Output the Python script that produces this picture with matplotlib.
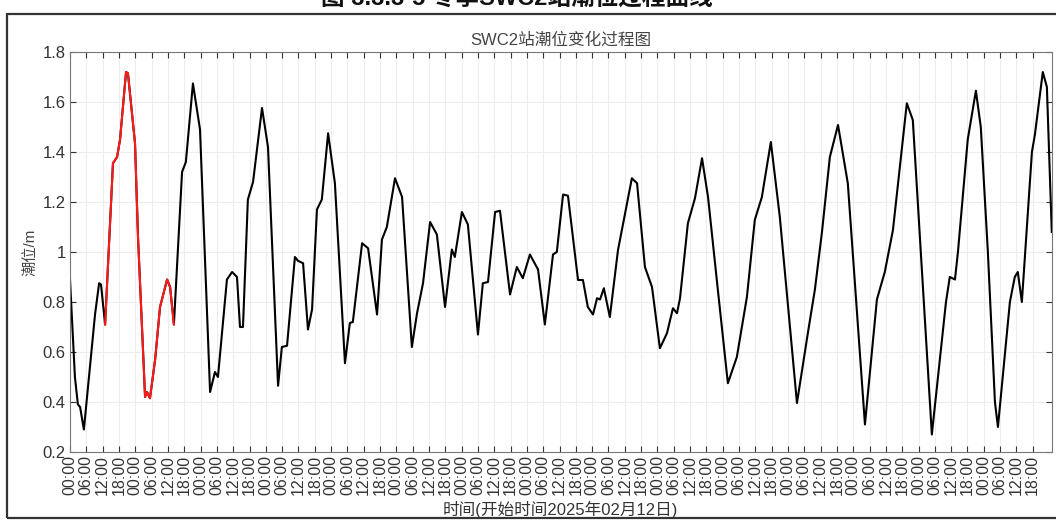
import numpy as np
import matplotlib
matplotlib.use('agg')
import matplotlib.pyplot as plt
from matplotlib.patches import Rectangle
from matplotlib.ticker import FuncFormatter

plt.rcParams['font.family'] = ['Liberation Sans', 'Noto Sans CJK SC']

# hours since 2025-02-12 00:00, tide level (m)
hours = [0, 1.8, 2.9, 3.7, 5.1, 7.4, 9.2, 10.7, 11.4, 12.9,
         15.8, 17.3, 18.4, 20.6, 21.3, 23.9, 25.0, 27.6, 28.3, 29.4,
         31.3, 33.1, 35.7, 36.8, 38.2,
         41.2, 42.6, 45.2, 47.8, 51.5, 53.3, 54.4, 57.7, 59.6, 61.4,
         62.5, 63.6, 65.4, 67.3, 70.6, 72.8, 76.5, 77.9, 79.8, 82.7,
         83.8, 85.7, 87.5, 89.0, 90.8, 92.6, 94.9, 97.4, 101.1, 102.9,
         104.0, 107.4, 109.6, 112.9, 114.7, 116.5, 119.5, 122.1, 125.7, 127.6,
         129.8, 132.4, 134.9, 137.9, 140.4, 141.5, 144.1, 146.3, 150.0, 151.8,
         153.7, 156.3, 158.1, 161.8, 164.3, 166.5, 169.1, 172.1, 174.6, 177.6,
         179.0, 181.3, 183.1, 186.8, 188.6, 190.4, 192.3, 193.8, 194.9, 196.3,
         198.5, 201.5, 206.6, 208.5, 211.4, 214.0, 216.9, 219.5, 221.7, 223.2,
         224.3, 227.2, 229.8, 232.4, 234.6, 238.2, 241.9, 245.2, 248.9, 251.8,
         254.4, 257.7, 261.0, 267.3, 271.3, 273.9, 276.5, 279.4, 282.4, 286.0,
         292.3, 296.7, 299.6, 302.6, 307.7, 309.9, 316.9, 322.1, 323.5, 325.4,
         326.5, 330.1, 333.1, 334.9, 337.5, 340.1, 341.2, 345.6, 347.4, 348.5,
         350.0, 353.7, 354.8, 357.7, 359.2, 361.0]
level = [0.89, 0.50, 0.39, 0.38, 0.29, 0.55, 0.75, 0.875, 0.87, 0.71,
         1.355, 1.38, 1.45, 1.72, 1.715, 1.435, 1.06, 0.42, 0.44, 0.415,
         0.57, 0.78, 0.89, 0.86, 0.71,
         1.32, 1.36, 1.674, 1.49, 0.44, 0.52, 0.50, 0.89, 0.92, 0.90,
         0.70, 0.70, 1.21, 1.28, 1.576, 1.42, 0.465, 0.62, 0.625, 0.98,
         0.965, 0.955, 0.69, 0.77, 1.17, 1.21, 1.475, 1.275, 0.555, 0.716,
         0.72, 1.035, 1.015, 0.75, 1.05, 1.10, 1.295, 1.22, 0.62, 0.755,
         0.875, 1.12, 1.07, 0.78, 1.01, 0.98, 1.16, 1.11, 0.67, 0.875,
         0.88, 1.16, 1.165, 0.83, 0.94, 0.895, 0.99, 0.93, 0.71, 0.99,
         1.0, 1.23, 1.225, 0.888, 0.888, 0.78, 0.75, 0.815, 0.81, 0.855,
         0.74, 1.008, 1.295, 1.275, 0.94, 0.86, 0.615, 0.675, 0.775, 0.755,
         0.815, 1.115, 1.215, 1.375, 1.22, 0.85, 0.475, 0.58, 0.82, 1.128,
         1.22, 1.44, 1.14, 0.396, 0.675, 0.85, 1.08, 1.38, 1.508, 1.275,
         0.31, 0.81, 0.92, 1.088, 1.595, 1.528, 0.27, 0.80, 0.90, 0.89,
         1.0, 1.45, 1.645, 1.5, 1.0, 0.4, 0.30, 0.80, 0.90, 0.92,
         0.80, 1.40, 1.47, 1.72, 1.66, 1.08]

# highlighted period (red)
red_start = 12.9
red_end = 38.2

tick_hours = list(range(0, 360, 6))
tick_labels = ['%02d:00' % (h % 24) for h in tick_hours]
yticks = [0.2, 0.4, 0.6, 0.8, 1.0, 1.2, 1.4, 1.6, 1.8]

hours = np.array(hours)
level = np.array(level)

fig = plt.figure(figsize=(10.56, 5.2), dpi=100)
ax = fig.add_axes([0.0663, 0.1308, 0.9297, 0.7692])

ax.plot(hours, level, c='k', lw=1.5)
m = (hours >= red_start) & (hours <= red_end)
ax.plot(hours[m], level[m], c='#ff1a1a', lw=1.5)

ax.set_xlim(0, hours[-1])
ax.set_ylim(0.2, 1.8)
ax.set_xticks(tick_hours)
ax.set_xticklabels(tick_labels, rotation=90)
ax.set_yticks(yticks)
ax.yaxis.set_major_formatter(FuncFormatter(lambda v, p: '%g' % v))
ax.tick_params(direction='in', length=4, top=True, right=True, colors='#333333',
               labelsize=12, pad=3)
ax.tick_params(axis='x', labelsize=11.5, pad=2)
ax.grid(True, color='#ededed', lw=0.8)
for s in ax.spines.values():
    s.set_color('#777777')
    s.set_linewidth(0.8)

ax.set_title('SWC2站潮位变化过程图', fontsize=12, color='#444444', pad=5)
ax.set_ylabel('潮位/m', fontsize=11, color='#444444', labelpad=4)
fig.text(0.531, 0.021, '时间(开始时间2025年02月12日)', fontsize=12,
         color='#333333', ha='center', va='center')

# page frame and cut caption
fig.add_artist(Rectangle((0.0066, 0.004), 1.2, 0.969, transform=fig.transFigure,
                         fill=False, lw=1.6, ec='#333333'))
fig.text(0.489, 1.004, '图 3.3.3-5 冬季SWC2站潮位过程曲线', fontsize=17,
         fontweight='bold', ha='center', va='center', color='#111111')

fig.savefig('out.png', dpi=100)
